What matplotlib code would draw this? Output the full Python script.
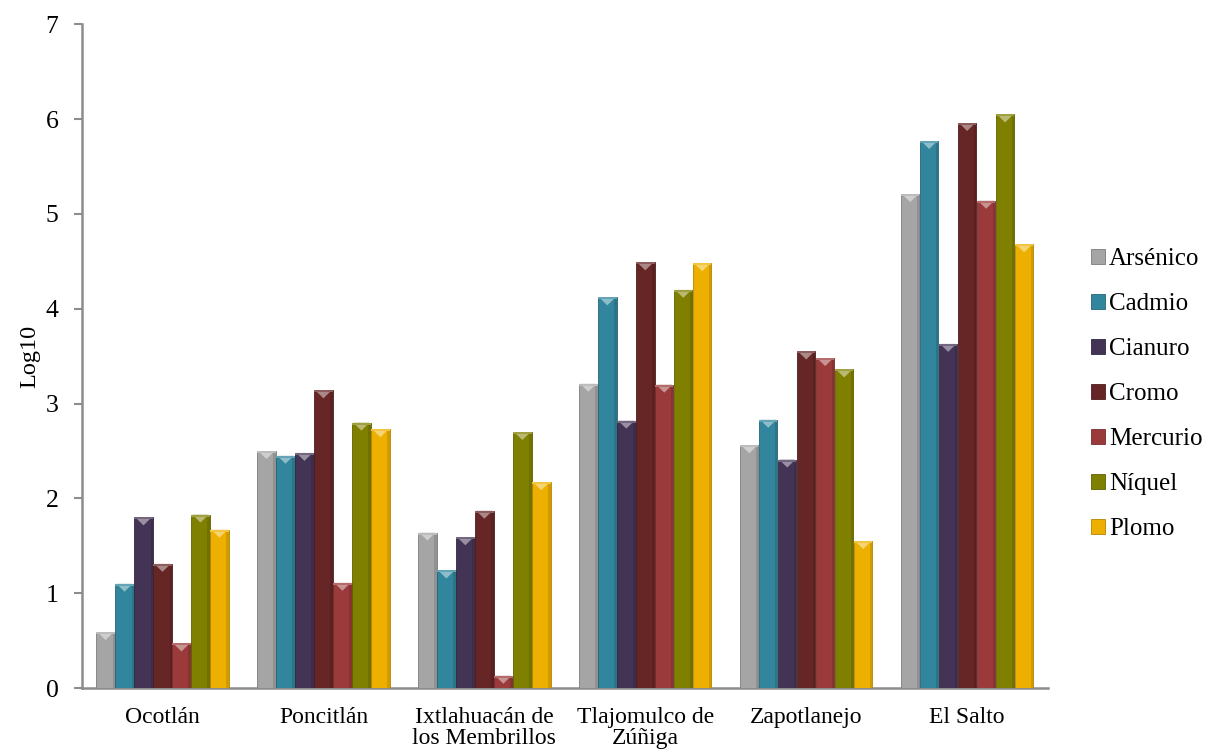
import matplotlib
matplotlib.use("Agg")
import matplotlib.pyplot as plt
import numpy as np
from matplotlib.patches import Polygon
import matplotlib.colors as mcolors

plt.rcParams['font.family'] = ['Liberation Serif', 'DejaVu Serif']

categories = ["Ocotlán", "Poncitlán", "Ixtlahuacán de\nlos Membrillos",
              "Tlajomulco de\nZúñiga", "Zapotlanejo", "El Salto"]
series_names = ["Arsénico", "Cadmio", "Cianuro", "Cromo", "Mercurio", "Níquel", "Plomo"]

arsenico = [0.59, 2.50, 1.64, 3.21, 2.56, 5.21]
cadmio   = [1.10, 2.45, 1.24, 4.12, 2.83, 5.77]
cianuro  = [1.80, 2.48, 1.59, 2.82, 2.41, 3.63]
cromo    = [1.31, 3.14, 1.87, 4.49, 3.55, 5.96]
mercurio = [0.47, 1.11, 0.13, 3.20, 3.48, 5.14]
niquel   = [1.83, 2.80, 2.70, 4.20, 3.36, 6.05]
plomo    = [1.67, 2.73, 2.17, 4.48, 1.55, 4.68]

series_values = [arsenico, cadmio, cianuro, cromo, mercurio, niquel, plomo]
colors = ["#A5A5A5", "#31859C", "#433355", "#672626", "#9B3A3A", "#808000", "#EDB000"]

yticks = [0, 1, 2, 3, 4, 5, 6, 7]

fig = plt.figure(figsize=(12.10, 7.55), dpi=100)
ax = fig.add_axes([0.0678, 0.0887, 0.798, 0.879])

n = len(series_names)
x = np.arange(len(categories))
width = 0.118
axis_color = "#8C8C8C"

def lighten(c, f):
    r, g, b = mcolors.to_rgb(c)
    return (r + (1 - r) * f, g + (1 - g) * f, b + (1 - b) * f)

def darken(c, f):
    r, g, b = mcolors.to_rgb(c)
    return (r * (1 - f), g * (1 - f), b * (1 - f))

bar_groups = []
for i, (name, vals, col) in enumerate(zip(series_names, series_values, colors)):
    offs = (i - (n - 1) / 2) * width
    bars = ax.bar(x + offs, vals, width * 0.97, color=col, label=name,
                  edgecolor=darken(col, 0.25), linewidth=0.6, zorder=3)
    bar_groups.append((bars, col))

# bevel highlight triangles at the top of each bar (derived from bar geometry)
px_per_unit_y = (ax.get_position().height * 755) / 7.0
for bars, col in bar_groups:
    for p in bars.patches:
        x0 = p.get_x()
        w = p.get_width()
        h = p.get_height()
        tri_h = min(8.0 / px_per_unit_y, h)
        strip_h = min(2.0 / px_per_unit_y, h)
        ax.add_patch(Polygon([[x0 + w * 0.06, h], [x0 + w * 0.94, h], [x0 + w / 2, h - tri_h]],
                             closed=True, facecolor=lighten(col, 0.45), edgecolor='none', zorder=4))
        ax.add_patch(Polygon([[x0, h], [x0 + w, h], [x0 + w, h - strip_h], [x0, h - strip_h]],
                             closed=True, facecolor=lighten(col, 0.25), edgecolor='none', zorder=4))
        # side shading
        ax.add_patch(Polygon([[x0 + w * 0.88, h - strip_h], [x0 + w, h - strip_h], [x0 + w, 0], [x0 + w * 0.88, 0]],
                             closed=True, facecolor=darken(col, 0.12), edgecolor='none', zorder=4))

ax.set_xlim(-0.5, len(categories) - 0.5)
ax.set_ylim(0, 7)
ax.set_yticks(yticks)
ax.set_yticklabels([str(t) for t in yticks], fontsize=18.5)
ax.set_xticks(x)
ax.set_xticklabels(categories, fontsize=17, linespacing=1.0)
ax.tick_params(axis='x', length=0, pad=14)
ax.tick_params(axis='y', length=6, width=1.5, color=axis_color, pad=11, direction='out')

for s in ['top', 'right']:
    ax.spines[s].set_visible(False)
for s in ['left', 'bottom']:
    ax.spines[s].set_color(axis_color)
    ax.spines[s].set_linewidth(1.8)

ax.set_ylabel("Log10", fontsize=17.5, labelpad=4)

leg = ax.legend(loc='center left', bbox_to_anchor=(1.035, 0.443), frameon=False,
                fontsize=18, handlelength=0.55, handleheight=0.55,
                handletextpad=0.15, labelspacing=0.92, borderaxespad=0)

fig.savefig("out.png", dpi=100, facecolor='white')
